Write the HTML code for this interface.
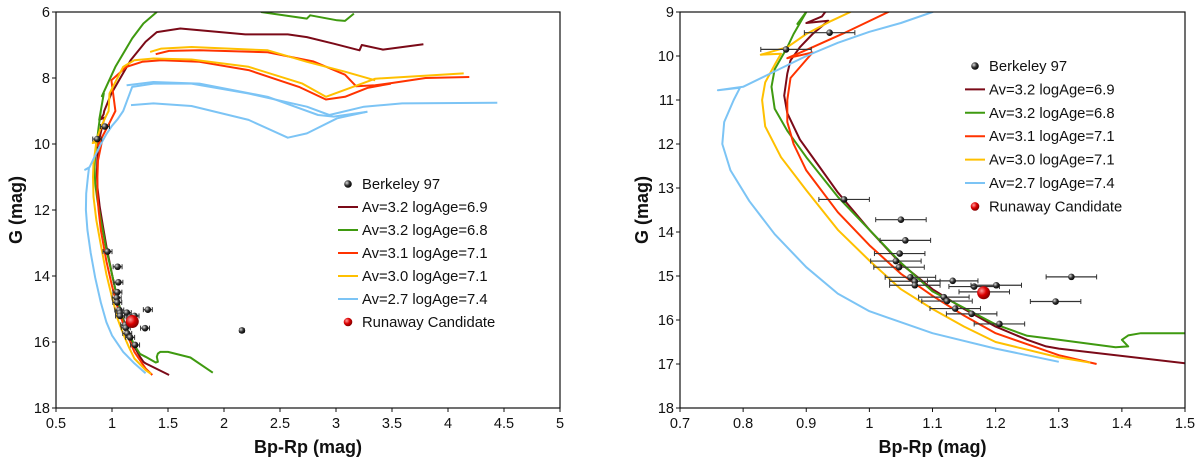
<!DOCTYPE html>
<html><head><meta charset="utf-8">
<style>
html,body{margin:0;padding:0;background:#fff;width:1200px;height:461px;overflow:hidden}
svg{display:block;font-family:"Liberation Sans",sans-serif}
</style></head><body>
<svg id="c" width="1200" height="461"></svg>
<script>
// ---- data ----
const clusterBp=[0.937,0.868,0.960,1.050,1.057,1.048,1.042,1.047,1.065,1.072,1.072,1.132,1.166,1.201,1.320,1.182,1.118,1.123,1.295,1.136,1.162,1.206,2.16];
const clusterG=[9.47,9.85,13.26,13.72,14.19,14.49,14.66,14.80,15.03,15.12,15.21,15.11,15.24,15.21,15.02,15.36,15.48,15.57,15.58,15.74,15.86,16.09,15.65];
const clusterErr=[0.04,0.04,0.04,0.04,0.04,0.04,0.04,0.04,0.04,0.04,0.04,0.04,0.04,0.04,0.04,0.04,0.04,0.04,0.04,0.04,0.04,0.04,0.02];
const runawayBp=[1.181];
const runawayG=[15.38];
const iso69=[[[1.51,17.0],[1.3,16.65],[1.28,16.6],[1.25,16.45],[1.2,16.15],[1.15,15.75],[1.1,15.3],[1.05,14.72],[1.0,13.95],[0.95,13.1],[0.92,12.5],[0.89,11.9],[0.87,11.3],[0.865,10.9],[0.87,10.4],[0.875,10.1],[0.89,9.8],[0.91,9.5],[0.935,9.2],[0.9,9.25],[0.925,9.1],[0.93,9.0],[0.995,8.47],[1.166,7.46],[1.30,6.9],[1.40,6.61],[1.61,6.5],[2.19,6.68],[2.57,6.68],[2.74,6.76],[2.98,6.96],[3.21,7.16],[3.23,7.0],[3.42,7.14],[3.78,6.98]]];
const iso68=[[[1.9,16.93],[1.7,16.47],[1.5,16.3],[1.43,16.3],[1.41,16.35],[1.40,16.45],[1.41,16.6],[1.39,16.62],[1.3,16.45],[1.25,16.36],[1.2,16.1],[1.1,15.35],[1.05,14.7],[1.0,13.95],[0.95,13.2],[0.9,12.3],[0.87,11.7],[0.85,11.2],[0.845,10.7],[0.85,10.3],[0.87,9.8],[0.88,9.5],[0.9,9.0],[0.886,9.27],[0.927,8.47],[0.91,8.55],[1.03,7.66],[1.18,6.8],[1.28,6.35],[1.40,6.0]],[[2.33,6.0],[2.74,6.2],[2.77,6.1],[3.01,6.25],[3.08,6.27],[3.16,6.05]]];
const iso71a=[[[1.36,17.0],[1.3,16.8],[1.2,16.3],[1.15,15.9],[1.1,15.45],[1.05,14.95],[1.0,14.3],[0.95,13.55],[0.9,12.6],[0.88,12.0],[0.87,11.5],[0.87,11.0],[0.875,10.5],[0.91,9.92],[0.87,10.05],[0.91,9.8],[0.96,9.48],[1.03,9.0],[0.995,8.07],[1.13,7.66],[1.27,7.51],[1.44,7.46],[1.78,7.51],[2.22,7.76],[2.67,8.27],[2.91,8.65],[3.08,8.57],[3.28,8.3],[3.49,8.17]],[[1.39,7.28],[1.51,7.18],[1.78,7.16],[2.39,7.22],[2.8,7.5],[3.08,7.9],[3.18,8.25],[3.35,8.22],[3.5,8.15],[3.8,8.0],[4.19,7.97]]];
const iso71b=[[[1.35,16.97],[1.3,16.85],[1.2,16.5],[1.15,16.15],[1.1,15.75],[1.05,15.3],[1.0,14.65],[0.95,13.95],[0.9,13.05],[0.86,12.3],[0.835,11.6],[0.83,11.0],[0.835,10.6],[0.85,10.2],[0.86,9.95],[0.828,9.97],[0.87,9.8],[0.9,9.5],[0.94,9.2],[0.97,9.0],[0.978,8.47],[1.10,7.66],[1.20,7.46],[1.37,7.41],[1.71,7.44],[2.22,7.66],[2.70,8.17],[2.91,8.57],[3.15,8.27],[3.35,8.02],[4.14,7.86]],[[1.34,7.21],[1.44,7.11],[1.71,7.06],[2.39,7.16],[2.74,7.51],[3.08,7.81],[3.35,8.07]]];
const iso74=[[[1.3,16.95],[1.2,16.65],[1.1,16.3],[1.0,15.8],[0.95,15.4],[0.9,14.8],[0.85,14.05],[0.81,13.3],[0.78,12.6],[0.767,12.0],[0.77,11.5],[0.785,11.0],[0.795,10.72],[0.76,10.78],[0.8,10.7],[0.85,10.35],[0.9,10.0],[0.95,9.7],[1.0,9.45],[1.05,9.25],[1.1,9.0],[1.18,8.27],[1.37,8.17],[1.71,8.17],[2.22,8.47],[2.74,8.87],[2.94,9.12],[3.25,8.87],[3.59,8.77],[4.44,8.75]],[[1.17,8.82],[1.37,8.77],[1.71,8.85],[2.22,9.27],[2.57,9.81],[2.74,9.68],[3.01,9.22],[3.28,9.02]],[[1.13,8.22],[1.37,8.12],[1.78,8.17],[2.39,8.57],[2.84,9.12],[2.98,9.17],[3.28,9.02]]];
const legendLabels=["Berkeley 97","Av=3.2 logAge=6.9","Av=3.2 logAge=6.8","Av=3.1 logAge=7.1","Av=3.0 logAge=7.1","Av=2.7 logAge=7.4","Runaway Candidate"];
const leftXTicks=[0.5,1,1.5,2,2.5,3,3.5,4,4.5,5];
const leftYTicks=[6,8,10,12,14,16,18];
const rightXTicks=[0.7,0.8,0.9,1,1.1,1.2,1.3,1.4,1.5];
const rightYTicks=[9,10,11,12,13,14,15,16,17,18];

const NS="http://www.w3.org/2000/svg";
const svg=document.getElementById('c');
function mk(tag,attrs,parent){const e=document.createElementNS(NS,tag);for(const k in attrs)e.setAttribute(k,attrs[k]);(parent||svg).appendChild(e);return e;}
const defs=mk('defs',{});
const gg=mk('radialGradient',{id:'gblk',cx:'0.35',cy:'0.35',r:'0.7'},defs);
mk('stop',{offset:'0','stop-color':'#ddd'},gg);mk('stop',{offset:'0.5','stop-color':'#333'},gg);mk('stop',{offset:'1','stop-color':'#000'},gg);
const gr=mk('radialGradient',{id:'gred',cx:'0.35',cy:'0.35',r:'0.7'},defs);
mk('stop',{offset:'0','stop-color':'#ff9a9a'},gr);mk('stop',{offset:'0.5','stop-color':'#d00'},gr);mk('stop',{offset:'1','stop-color':'#700'},gr);

const isoSets=[[iso69,'#7b0a18'],[iso68,'#3f9a10'],[iso71a,'#ff3300'],[iso71b,'#ffc000'],[iso74,'#7cc4f5']];

function plot(cfg){
  const {id,x0,x1,y0,y1,xmin,xmax,ymin,ymax,xt,yt,fmt,legX,legY,legDy,ytx}=cfg;
  const X=v=>x0+(v-xmin)/(xmax-xmin)*(x1-x0);
  const Y=v=>y0+(v-ymin)/(ymax-ymin)*(y1-y0);
  const g=mk('g',{});
  
  
  const cp=mk('clipPath',{id:id+'-clip'},defs);
  mk('rect',{x:x0,y:y0,width:x1-x0,height:y1-y0},cp);
  const data=mk('g',{'clip-path':'url(#'+id+'-clip)'},g);
  isoSets.forEach(([segs,col],i)=>{
    segs.forEach(seg=>{
      const p=mk('polyline',{points:seg.map(q=>X(q[0]).toFixed(1)+','+Y(q[1]).toFixed(1)).join(' '),fill:'none',stroke:col,'stroke-width':2,'stroke-linejoin':'round'},data);
      
      
    });
  });
  clusterBp.forEach((b,i)=>{
    const cx=X(b),cy=Y(clusterG[i]),l=X(b-clusterErr[i]),r=X(b+clusterErr[i]);
    const eg=mk('g',{},data);
    
    
    mk('line',{x1:l,x2:r,y1:cy,y2:cy,stroke:'#333','stroke-width':1.2},eg);
    mk('line',{x1:l,x2:l,y1:cy-2.5,y2:cy+2.5,stroke:'#333','stroke-width':1},eg);
    mk('line',{x1:r,x2:r,y1:cy-2.5,y2:cy+2.5,stroke:'#333','stroke-width':1},eg);
    mk('circle',{cx:cx,cy:cy,r:3.3,fill:'url(#gblk)'},eg);
  });
  runawayBp.forEach((b,i)=>{
    const c=mk('circle',{cx:X(b),cy:Y(runawayG[i]),r:6.5,fill:'url(#gred)'},data);
    
    
  });
  const fr=mk('rect',{x:x0,y:y0,width:x1-x0,height:y1-y0,fill:'none',stroke:'#111','stroke-width':1.2},g);
  
  
  xt.forEach(v=>{
    mk('line',{x1:X(v),x2:X(v),y1:y1,y2:y1+4,stroke:'#111'},g);
    const t=mk('text',{x:X(v),y:y1+20,'text-anchor':'middle','font-size':14.5,fill:'#111'},g);
    t.textContent=fmt(v);
    
    
  });
  yt.forEach(v=>{
    mk('line',{x1:x0-4,x2:x0,y1:Y(v),y2:Y(v),stroke:'#111'},g);
    const t=mk('text',{x:x0-6,y:Y(v)+5,'text-anchor':'end','font-size':14.5,fill:'#111'},g);
    t.textContent=v;
    
    
  });
  const xl=mk('text',{x:(x0+x1)/2,y:453,'text-anchor':'middle','font-size':18,'font-weight':'bold',fill:'#111'},g);
  xl.textContent='Bp-Rp (mag)';
  
  
  const yl=mk('text',{x:ytx,y:(y0+y1)/2,'text-anchor':'middle','font-size':18,'font-weight':'bold',fill:'#111',transform:'rotate(-90 '+ytx+' '+(y0+y1)/2+')'},g);
  yl.textContent='G (mag)';
  
  
  const lg=mk('g',{},g);
  
  
  legendLabels.forEach((lab,i)=>{
    const yy=legY+i*legDy;
    const e=mk('g',{},lg);
    
    
    if(i===0) mk('circle',{cx:legX+10,cy:yy,r:3.8,fill:'url(#gblk)'},e);
    else if(i===6) mk('circle',{cx:legX+10,cy:yy,r:4.3,fill:'url(#gred)'},e);
    else mk('line',{x1:legX,x2:legX+20,y1:yy,y2:yy,stroke:isoSets[i-1][1],'stroke-width':2},e);
    const t=mk('text',{x:legX+24,y:yy+5,'font-size':14.8,fill:'#111'},e);
    t.textContent=lab;
  });
}
plot({id:'left-cmd',x0:56,x1:560,y0:12,y1:408,xmin:0.5,xmax:5,ymin:6,ymax:18,xt:leftXTicks,yt:leftYTicks,fmt:v=>String(v),legX:338,legY:184,legDy:23,ytx:22});
plot({id:'right-cmd',x0:680,x1:1185,y0:12,y1:408,xmin:0.7,xmax:1.5,ymin:9,ymax:18,xt:rightXTicks,yt:rightYTicks,fmt:v=>String(v),legX:965,legY:66,legDy:23.4,ytx:648});
</script>
</body></html>
